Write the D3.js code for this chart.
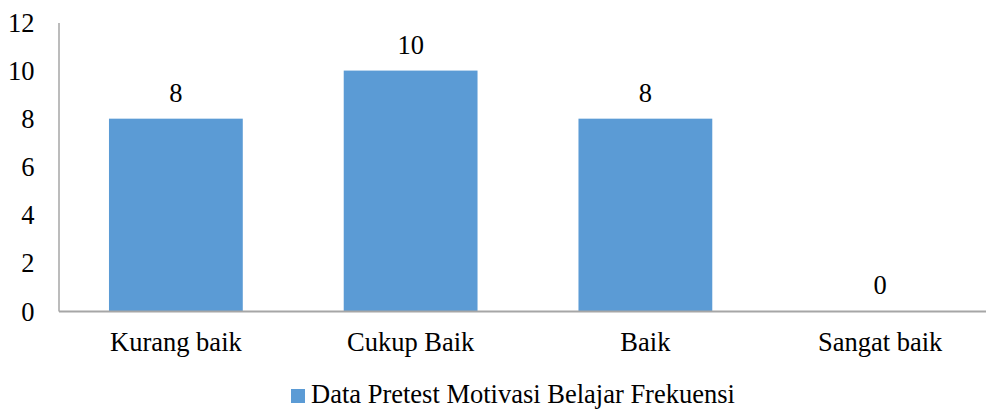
<!DOCTYPE html>
<html><head><meta charset="utf-8">
<script src="https://cdn.jsdelivr.net/npm/d3@7"></script>
<style>html,body{margin:0;padding:0;background:#fff;}svg{display:block;} text{font-family:"Liberation Serif",serif;}</style>
</head><body>
<svg id="chart" width="986" height="410"></svg>
<script>
const categories = ["Kurang baik", "Cukup Baik", "Baik", "Sangat baik"];
const values = [8, 10, 8, 0];
const yTicks = [0, 2, 4, 6, 8, 10, 12];
const seriesName = "Data Pretest Motivasi Belajar Frekuensi";

const svg = d3.select("#chart");
const font = "Liberation Serif";
const fs = 26.5;
const color = "#5B9BD5";
const axisColor = "#A6A6A6";

const x = d3.scaleBand().domain(categories).range([58.5, 997.5]).paddingInner(0.43).paddingOuter(0.215);
const y = d3.scaleLinear().domain([0, 12]).range([311, 22.5]);

// y axis
const yAxis = svg.append("g").attr("transform", "translate(58.5,0)")
  .call(d3.axisLeft(y).tickValues(yTicks).tickSize(0).tickPadding(24));
yAxis.attr("font-family", font);
yAxis.select(".domain").attr("stroke", axisColor).attr("stroke-width", 1.5);
yAxis.selectAll("text").attr("font-family", font).attr("font-size", fs).attr("fill", "#000")
  .attr("dy", 0).attr("y", 9);

// bars
svg.append("g").selectAll("rect").data(values).join("rect")
  .attr("x", (d, i) => x(categories[i]))
  .attr("y", d => y(d))
  .attr("width", x.bandwidth())
  .attr("height", d => y(0) - y(d))
  .attr("fill", color);

// x axis
const xAxis = svg.append("g").attr("transform", `translate(0,${y(0)})`)
  .call(d3.axisBottom(x).tickSize(0).tickSizeOuter(0));
xAxis.attr("font-family", font);
xAxis.select(".domain").attr("stroke", axisColor).attr("stroke-width", 2);
xAxis.selectAll("text").attr("font-family", font).attr("font-size", fs).attr("fill", "#000")
  .attr("dy", 0).attr("y", 40);

// data labels
svg.append("g").selectAll("text").data(values).join("text")
  .attr("x", (d, i) => x(categories[i]) + x.bandwidth() / 2)
  .attr("y", d => y(d) - 17)
  .attr("text-anchor", "middle")
  .attr("font-family", font).attr("font-size", fs).attr("fill", "#000")
  .text(d => d);

// legend
const lg = svg.append("g");
lg.append("rect").attr("x", 291).attr("y", 389).attr("width", 14).attr("height", 14).attr("fill", color);
lg.append("text").attr("x", 311).attr("y", 403).attr("font-family", font).attr("font-size", fs).attr("fill", "#000").text(seriesName);
</script>
</body></html>
